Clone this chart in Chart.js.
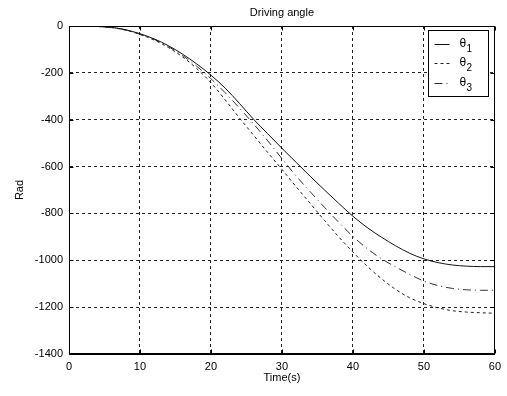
<!DOCTYPE html>
<html>
<head>
<meta charset="utf-8">
<script src="https://cdn.jsdelivr.net/npm/chart.js@4/dist/chart.umd.min.js"></script>
<style>
  html, body { margin: 0; padding: 0; background: #fff; }
</style>
</head>
<body>
<canvas id="angle-chart" width="507" height="396"></canvas>
<script>
// driving angle of the three joints, sampled every 2 s
const timeS = [0, 2, 4, 6, 8, 10, 12, 14, 16, 18, 20, 22, 24, 26, 28, 30,
               32, 34, 36, 38, 40, 42, 44, 46, 48, 50, 52, 54, 56, 58, 60];
const theta1 = [0, 0, -2, -6, -16, -33, -55, -84, -120, -162, -210, -265, -330, -398, -460, -522,
                -582, -642, -700, -757, -812, -860, -901, -938, -970, -994, -1010, -1020, -1025, -1027, -1027];
const theta2 = [0, 0, -2, -7, -18, -36, -60, -92, -132, -182, -242, -315, -392, -466, -540, -612,
                -686, -758, -830, -900, -965, -1025, -1078, -1124, -1160, -1185, -1203, -1215, -1221, -1224, -1226];
const theta3 = [0, 0, -2, -6, -17, -35, -57, -88, -126, -172, -225, -285, -350, -418, -490, -566,
                -640, -708, -774, -838, -898, -950, -993, -1028, -1060, -1089, -1108, -1120, -1126, -1128, -1128];

const xTicks = [0, 10, 20, 30, 40, 50, 60];
const yTicks = [0, -200, -400, -600, -800, -1000, -1200, -1400];
const seriesSub = ["1", "2", "3"];

const FONT = "'Liberation Sans', Arial, Helvetica, sans-serif";
Chart.defaults.font.family = FONT;
Chart.defaults.font.size = 11;
Chart.defaults.color = "#000";

const toPoints = ys => ys.map((y, i) => ({ x: timeS[i], y }));

// box, inward tick marks and the legend, drawn on top like a MATLAB axes
const framePlugin = {
    id: "frame",
    afterDraw(chart) {
        const ctx = chart.ctx;
        const { left, top, right, bottom } = chart.chartArea;
        const xs = chart.scales.x, ys = chart.scales.y;
        const L = Math.round(left) + 0.5, R = Math.round(right) - 0.5;
        const T = Math.round(top) + 0.5, B = Math.round(bottom) - 0.5;
        ctx.save();
        ctx.strokeStyle = "#000";
        ctx.lineWidth = 1;
        ctx.setLineDash([]);
        ctx.strokeRect(L, T, R - L, B - T);

        ctx.beginPath();
        xTicks.forEach(v => {
            const px = Math.round(xs.getPixelForValue(v)) + 0.5;
            ctx.moveTo(px, B); ctx.lineTo(px, B - 4);
            ctx.moveTo(px, T); ctx.lineTo(px, T + 4);
        });
        yTicks.forEach(v => {
            const py = Math.round(ys.getPixelForValue(v)) + 0.5;
            ctx.moveTo(L, py); ctx.lineTo(L + 4, py);
            ctx.moveTo(R, py); ctx.lineTo(R - 4, py);
        });
        ctx.stroke();

        // legend
        const bx = 428.5, by = 30.5, bw = 60, bh = 66;
        ctx.fillStyle = "#fff";
        ctx.fillRect(bx, by, bw, bh);
        ctx.strokeRect(bx, by, bw, bh);
        chart.data.datasets.forEach((ds, i) => {
            const rowY = Math.round(by + 13 + i * 19.5) + 0.5;
            ctx.strokeStyle = ds.borderColor;
            ctx.setLineDash(ds.borderDash || []);
            ctx.beginPath();
            ctx.moveTo(bx + 6, rowY);
            ctx.lineTo(bx + 21, rowY);
            ctx.stroke();
            ctx.setLineDash([]);
            ctx.fillStyle = "#000";
            ctx.textBaseline = "middle";
            ctx.font = "12px " + FONT;
            ctx.fillText("θ", bx + 31, rowY - 1);
            ctx.font = "10px " + FONT;
            ctx.fillText(seriesSub[i], bx + 38, rowY + 5);
        });
        ctx.restore();
    }
};

new Chart(document.getElementById("angle-chart"), {
    type: "line",
    data: {
        datasets: [
            {
                label: "θ1",
                data: toPoints(theta1),
                borderColor: "#111",
                borderWidth: 1,
                pointRadius: 0,
                cubicInterpolationMode: "monotone",
                fill: false
            },
            {
                label: "θ2",
                data: toPoints(theta2),
                borderColor: "#222",
                borderWidth: 1,
                borderDash: [3, 3],
                pointRadius: 0,
                cubicInterpolationMode: "monotone",
                fill: false
            },
            {
                label: "θ3",
                data: toPoints(theta3),
                borderColor: "#333",
                borderWidth: 1,
                borderDash: [8, 4, 1, 4],
                pointRadius: 0,
                cubicInterpolationMode: "monotone",
                fill: false
            }
        ]
    },
    options: {
        responsive: false,
        animation: false,
        layout: { padding: { left: 0, right: 12, top: 0, bottom: 0 } },
        plugins: {
            legend: { display: false },
            tooltip: { enabled: false },
            title: {
                display: true,
                text: "Driving angle",
                fullSize: false,
                font: { size: 11, weight: "normal", lineHeight: 1.2 },
                padding: { top: 6, bottom: 6.8 }
            }
        },
        scales: {
            x: {
                type: "linear",
                min: 0,
                max: 60,
                afterBuildTicks: s => { s.ticks = xTicks.map(v => ({ value: v })); },
                afterFit: s => { s.height = 42; },
                ticks: { padding: 6, maxRotation: 0, callback: v => String(v) },
                grid: { color: "#222", lineWidth: 1, drawTicks: false },
                border: { display: true, color: "#000", width: 1, dash: [3, 3] },
                title: { display: true, text: "Time(s)", padding: { top: 0, bottom: 11 }, font: { size: 11 } }
            },
            y: {
                type: "linear",
                min: -1400,
                max: 0,
                afterBuildTicks: s => { s.ticks = yTicks.slice().reverse().map(v => ({ value: v })); },
                afterFit: s => { s.width = 69; },
                ticks: { padding: 6, callback: v => String(v) },
                grid: { color: "#222", lineWidth: 1, drawTicks: false },
                border: { display: true, color: "#000", width: 1, dash: [3, 3] },
                title: { display: true, text: "Rad", padding: { top: 13, bottom: 0 }, font: { size: 11 } }
            }
        }
    },
    plugins: [framePlugin]
});
</script>
</body>
</html>
